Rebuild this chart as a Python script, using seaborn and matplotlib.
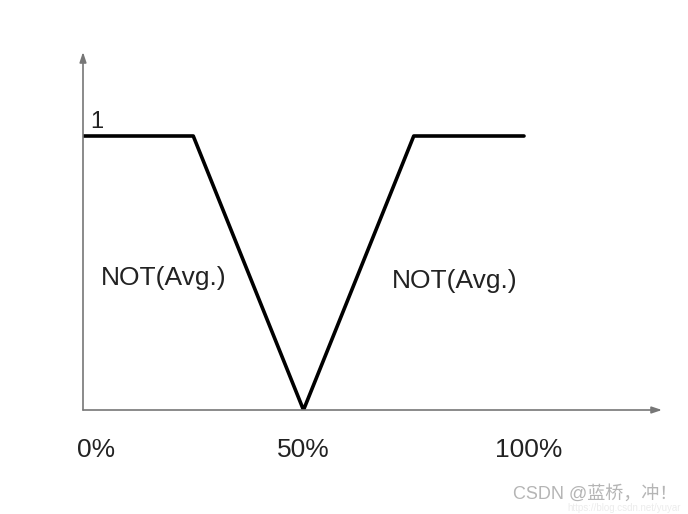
import numpy as np
import pandas as pd
import matplotlib
matplotlib.use("Agg")
import matplotlib.pyplot as plt
import seaborn as sns

# Membership curve points (x in percent, y membership)
x_pct = [0, 25, 50, 75, 100]
membership = [1, 1, 0, 1, 1]

# Tick labels along the x axis
tick_pos = [3, 50, 101]
tick_labels = ["0%", "50%", "100%"]

# Region labels
region_text = ["NOT(Avg.)", "NOT(Avg.)"]
region_x = [4, 70]
region_y = [0.48, 0.47]

df = pd.DataFrame({"x": x_pct, "y": membership})

sns.set_style("white")
plt.rcParams["font.family"] = ["Liberation Sans", "Noto Sans CJK SC", "DejaVu Sans"]

fig = plt.figure(figsize=(6.88, 5.14), dpi=100)
ax = fig.add_axes([83 / 688, (514 - 410) / 514, (662 - 83) / 688, (410 - 52) / 514])

sns.lineplot(data=df, x="x", y="y", color="black", linewidth=2.6, ax=ax)

xmax = (662 - 83) / 4.41
ymax = (410 - 52) / 274
ax.set_xlim(0, xmax)
ax.set_ylim(0, ymax)
for s in ax.spines.values():
    s.set_visible(False)
ax.set_xticks([])
ax.set_yticks([])
ax.set_xlabel("")
ax.set_ylabel("")

# axes with arrowheads
arrow = dict(arrowstyle="-|>,head_length=0.6,head_width=0.2", color="#777777", lw=1.2,
             shrinkA=0, shrinkB=0)
ax.annotate("", xy=(xmax, 0), xytext=(0, 0), arrowprops=arrow, annotation_clip=False)
ax.annotate("", xy=(0, ymax), xytext=(0, 0), arrowprops=arrow, annotation_clip=False)

# tick labels below axis
for p, t in zip(tick_pos, tick_labels):
    ax.text(p, -0.145, t, ha="center", va="center", fontsize=19, color="#222222")

ax.text(1.6, 1.01, "1", ha="left", va="bottom", fontsize=17, color="#222222")

for t, px, py in zip(region_text, region_x, region_y):
    ax.text(px, py, t, ha="left", va="center", fontsize=19, color="#222222")

# watermark
fig.text(0.985, 0.04, "CSDN @蓝桥，冲！", ha="right", va="center", fontsize=13,
         color="#b5b5b5")
fig.text(0.99, 0.012, "https://blog.csdn.net/yuyar", ha="right", va="center", fontsize=7,
         color="#ececec")

fig.savefig("out.png", dpi=100)
